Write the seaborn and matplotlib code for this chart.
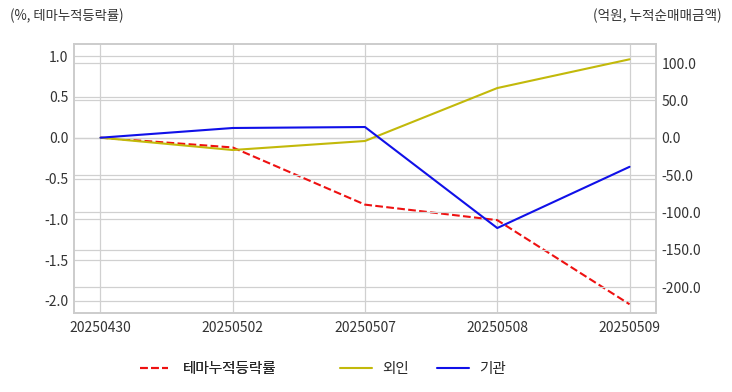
import numpy as np
import pandas as pd
import matplotlib
matplotlib.use('Agg')
import matplotlib.pyplot as plt
import seaborn as sns

# data
dates = ['20250430', '20250502', '20250507', '20250508', '20250509']
theme_return = [0.0, -0.12, -0.82, -1.01, -2.04]     # %, left axis
foreign_net = [0.0, -16.5, -4.4, 66.5, 105.0]        # 억원, right axis
inst_net = [0.0, 13.0, 14.3, -121.0, -39.0]           # 억원, right axis

left_ticks = [-2.0, -1.5, -1.0, -0.5, 0.0, 0.5, 1.0]
right_ticks = [-200.0, -150.0, -100.0, -50.0, 0.0, 50.0, 100.0]

sns.set_style('whitegrid')
plt.rcParams['font.family'] = ['Noto Sans CJK KR', 'DejaVu Sans']
plt.rcParams['axes.unicode_minus'] = False

df = pd.DataFrame({
    'date': dates,
    'x': np.arange(len(dates)),
    'theme': theme_return,
    'foreign': foreign_net,
    'inst': inst_net,
})

fig = plt.figure(figsize=(7.32, 3.92), dpi=100)
ax = fig.add_axes([74 / 732, 1 - 313 / 392, (656 - 74) / 732, (313 - 44) / 392])
ax2 = ax.twinx()

sns.lineplot(data=df, x='x', y='theme', ax=ax, color='#ee1111', linestyle='--',
             linewidth=1.5, label='테마누적등락률', legend=False)
sns.lineplot(data=df, x='x', y='foreign', ax=ax2, color='#c2b90a',
             linewidth=1.5, label='외인', legend=False)
sns.lineplot(data=df, x='x', y='inst', ax=ax2, color='#1010e8',
             linewidth=1.5, label='기관', legend=False)

ax.set_xlim(-0.2, 4.2)
ax.set_ylim(-2.147, 1.147)
ax2.set_ylim(-234.8, 125.5)
ax.set_xticks(df['x'])
ax.set_xticklabels(dates)
ax.set_yticks(left_ticks)
ax.set_yticklabels(['%.1f' % v for v in left_ticks])
ax2.set_yticks(right_ticks)
ax2.set_yticklabels(['%.1f' % v for v in right_ticks])
ax.set_xlabel('')
ax.set_ylabel('')
ax2.set_ylabel('')

grid_color = '#d0d0d0'
ax.grid(True, color=grid_color, linewidth=0.9)
ax2.grid(True, axis='y', color=grid_color, linewidth=0.9)
ax2.set_zorder(ax.get_zorder() + 1)
ax2.patch.set_visible(False)
for a in (ax, ax2):
    for sp in a.spines.values():
        sp.set_color('#cccccc')
        sp.set_linewidth(1.2)
    a.tick_params(length=0, labelsize=10, colors='#333333', pad=4)
ax.tick_params(axis='x', pad=6)

fig.text(10 / 732, 1 - 16 / 392, '(%, 테마누적등락률)', fontsize=9.6, color='#333333',
         va='center', ha='left')
fig.text(722 / 732, 1 - 16 / 392, '(억원, 누적순매매금액)', fontsize=9.8, color='#333333',
         va='center', ha='right')

# two legends: theme line on the left, investor lines to the right
leg_y = 1 - 369 / 392
leg1 = fig.legend(ax.get_lines()[:1], ['테마누적등락률'], loc='center left',
                  bbox_to_anchor=(127 / 732, leg_y), frameon=False, fontsize=10.5,
                  handlelength=1.9, handletextpad=1.0)
fig.add_artist(leg1)
fig.legend(ax2.get_lines()[:2], ['외인', '기관'], loc='center left',
           bbox_to_anchor=(327 / 732, leg_y), ncol=2, frameon=False, fontsize=10.5,
           handlelength=2.2, handletextpad=0.7, columnspacing=1.9)

fig.savefig('out.png', dpi=100)
